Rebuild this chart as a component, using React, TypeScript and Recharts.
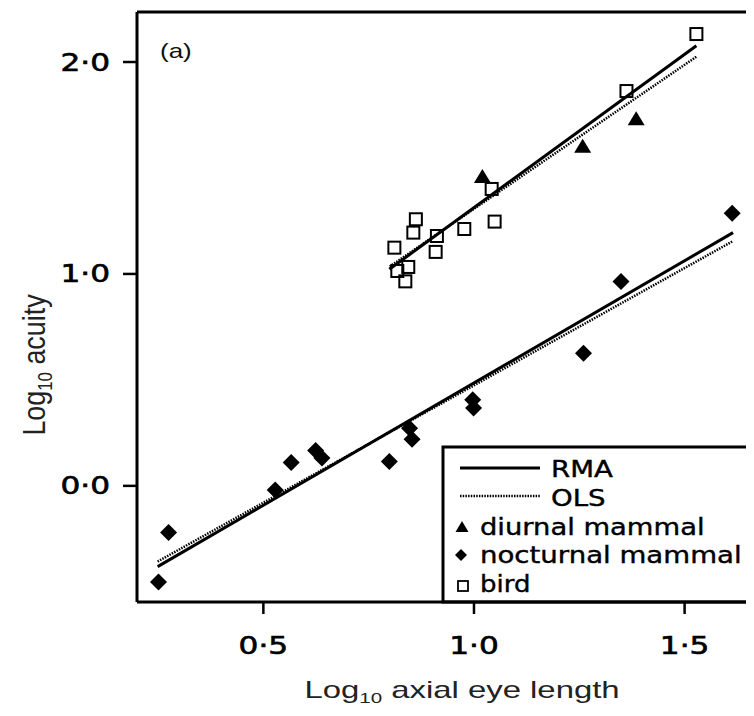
import React from 'react';
import { ScatterChart, Scatter, XAxis, YAxis, ReferenceLine, Customized } from 'recharts';

const diurnalMammal = [
  { x: 1.02, y: 1.458 },
  { x: 1.258, y: 1.6 },
  { x: 1.385, y: 1.73 },
];

const nocturnalMammal = [
  { x: 0.251, y: -0.454 },
  { x: 0.275, y: -0.22 },
  { x: 0.528, y: -0.019 },
  { x: 0.566, y: 0.11 },
  { x: 0.624, y: 0.167 },
  { x: 0.639, y: 0.131 },
  { x: 0.799, y: 0.115 },
  { x: 0.847, y: 0.272 },
  { x: 0.853, y: 0.22 },
  { x: 0.997, y: 0.406 },
  { x: 0.999, y: 0.367 },
  { x: 1.26, y: 0.626 },
  { x: 1.349, y: 0.964 },
  { x: 1.613, y: 1.286 },
];

const bird = [
  { x: 0.811, y: 1.124 },
  { x: 0.818, y: 1.014 },
  { x: 0.837, y: 0.965 },
  { x: 0.844, y: 1.033 },
  { x: 0.856, y: 1.195 },
  { x: 0.862, y: 1.258 },
  { x: 0.909, y: 1.104 },
  { x: 0.912, y: 1.179 },
  { x: 0.977, y: 1.212 },
  { x: 1.042, y: 1.401 },
  { x: 1.049, y: 1.247 },
  { x: 1.362, y: 1.863 },
  { x: 1.528, y: 2.132 },
];

const rmaLower = [{ x: 0.249, y: -0.381 }, { x: 1.615, y: 1.195 }];
const olsLower = [{ x: 0.249, y: -0.357 }, { x: 1.613, y: 1.153 }];
const rmaUpper = [{ x: 0.799, y: 1.022 }, { x: 1.528, y: 2.077 }];
const olsUpper = [{ x: 0.8, y: 1.035 }, { x: 1.528, y: 2.025 }];

const xTicks = [0.5, 1.0, 1.5];
const yTicks = [0, 1, 2];
const xDomain = [0.2, 1.66];
const yDomain = [-0.548, 2.236];

const legendLabels = ['RMA', 'OLS', 'diurnal mammal', 'nocturnal mammal', 'bird'];

const SANS = '"Liberation Sans", Arial, Helvetica, sans-serif';
const WIDE = '"DejaVu Sans", Verdana, sans-serif';
const fmt = (v: number) => v.toFixed(1).replace('.', '\u00B7');

const SText = (p: any) => {
  const { x, y, sx = 1, anchor = 'start', size, family = WIDE, sw = 0, fill = '#111', children } = p;
  return (
    <g transform={`translate(${x},${y}) scale(${sx},1)`}>
      <text x={0} y={0} textAnchor={anchor} fontSize={size} fontFamily={family} fill={fill}
        stroke={sw ? fill : 'none'} strokeWidth={sw}>{children}</text>
    </g>
  );
};

const Triangle = (p: any) => {
  const { cx, cy } = p;
  if (cx == null || cy == null) return null;
  return <polygon points={`${cx},${cy - 8} ${cx + 8.5},${cy + 6} ${cx - 8.5},${cy + 6}`} fill="#000" />;
};
const Diamond = (p: any) => {
  const { cx, cy } = p;
  if (cx == null || cy == null) return null;
  return <polygon points={`${cx},${cy - 8.5} ${cx + 8.5},${cy} ${cx},${cy + 8.5} ${cx - 8.5},${cy}`} fill="#000" />;
};
const Square = (p: any) => {
  const { cx, cy } = p;
  if (cx == null || cy == null) return null;
  return <rect x={cx - 6} y={cy - 6} width={12} height={12} fill="none" stroke="#000" strokeWidth={2} />;
};

const YTick = (p: any) => {
  const { x, y, payload } = p;
  return <SText x={x} y={y + 8.5} sx={1.3} anchor="end" size={24} sw={0.6} fill="#000">{fmt(payload.value)}</SText>;
};
const XTick = (p: any) => {
  const { x, y, payload } = p;
  return <SText x={x} y={y + 30} sx={1.3} anchor="middle" size={24} sw={0.6} fill="#000">{fmt(payload.value)}</SText>;
};

const Extras = () => {
  const rows = [469, 498, 527, 555, 584];
  const scales = [1.2, 1.2, 1.19, 1.2, 1.13];
  return (
    <g>
      <rect x={435} y={439} width={309} height={155} fill="#fff" stroke="#000" strokeWidth={3} />
      <line x1={452} x2={532} y1={460} y2={460} stroke="#000" strokeWidth={3} />
      <line x1={452} x2={532} y1={488} y2={488} stroke="#000" strokeWidth={2.5} strokeDasharray="1.5 1.2" />
      <polygon points={`454,513 460.5,524 447.5,524`} fill="#000" />
      <polygon points={`453,541 459,547 453,553 447,547`} fill="#000" />
      <rect x={450} y={573} width={10} height={10} fill="none" stroke="#000" strokeWidth={1.8} />
      {legendLabels.map((t, i) => (
        <SText key={t} x={i < 2 ? 543 : 472} y={rows[i]} sx={scales[i]} size={23} sw={0.4} fill="#000">{t}</SText>
      ))}
      <SText x={152} y={50} sx={1.3} size={20} family={SANS}>(a)</SText>
      <g transform="translate(454,690) scale(1.37,1)">
        <text x={0} y={0} textAnchor="middle" fontSize={24} fontFamily={SANS} fill="#222">
          Log<tspan fontSize={15} dy={5}>10</tspan><tspan dy={-5}> axial eye length</tspan>
        </text>
      </g>
      <g transform="translate(37,357) rotate(-90) scale(1.12,1.3)">
        <text x={0} y={0} textAnchor="middle" fontSize={24} fontFamily={SANS} fill="#222">
          Log<tspan fontSize={15} dy={5}>10</tspan><tspan dy={-5}> acuity</tspan>
        </text>
      </g>
    </g>
  );
};

export default function App() {
  return (
    <ScatterChart width={746} height={708} margin={{ top: 4, right: 2, left: 0, bottom: 0 }}>
      <XAxis type="number" dataKey="x" domain={xDomain} ticks={xTicks} allowDataOverflow
        height={114} axisLine={{ stroke: '#000', strokeWidth: 3 }} tickLine={{ stroke: '#000', strokeWidth: 2.5 }}
        tickSize={12} tickMargin={10} tick={<XTick />} />
      <YAxis type="number" dataKey="y" domain={yDomain} ticks={yTicks} allowDataOverflow
        width={129} axisLine={{ stroke: '#000', strokeWidth: 3 }} tickLine={{ stroke: '#000', strokeWidth: 2.5 }}
        tickSize={14} tickMargin={13} tick={<YTick />} />
      <ReferenceLine y={yDomain[1]} stroke="#000" strokeWidth={3} />
      <ReferenceLine x={xDomain[1]} stroke="#000" strokeWidth={3} />
      <ReferenceLine segment={olsLower} stroke="#000" strokeWidth={2.5} strokeDasharray="1.5 1.2" />
      <ReferenceLine segment={rmaLower} stroke="#000" strokeWidth={3} />
      <ReferenceLine segment={olsUpper} stroke="#000" strokeWidth={2.5} strokeDasharray="1.5 1.2" />
      <ReferenceLine segment={rmaUpper} stroke="#000" strokeWidth={3} />
      <Scatter name="diurnal mammal" data={diurnalMammal} shape={<Triangle />} isAnimationActive={false} />
      <Scatter name="nocturnal mammal" data={nocturnalMammal} shape={<Diamond />} isAnimationActive={false} />
      <Scatter name="bird" data={bird} shape={<Square />} isAnimationActive={false} />
      <Customized component={<Extras />} />
    </ScatterChart>
  );
}
